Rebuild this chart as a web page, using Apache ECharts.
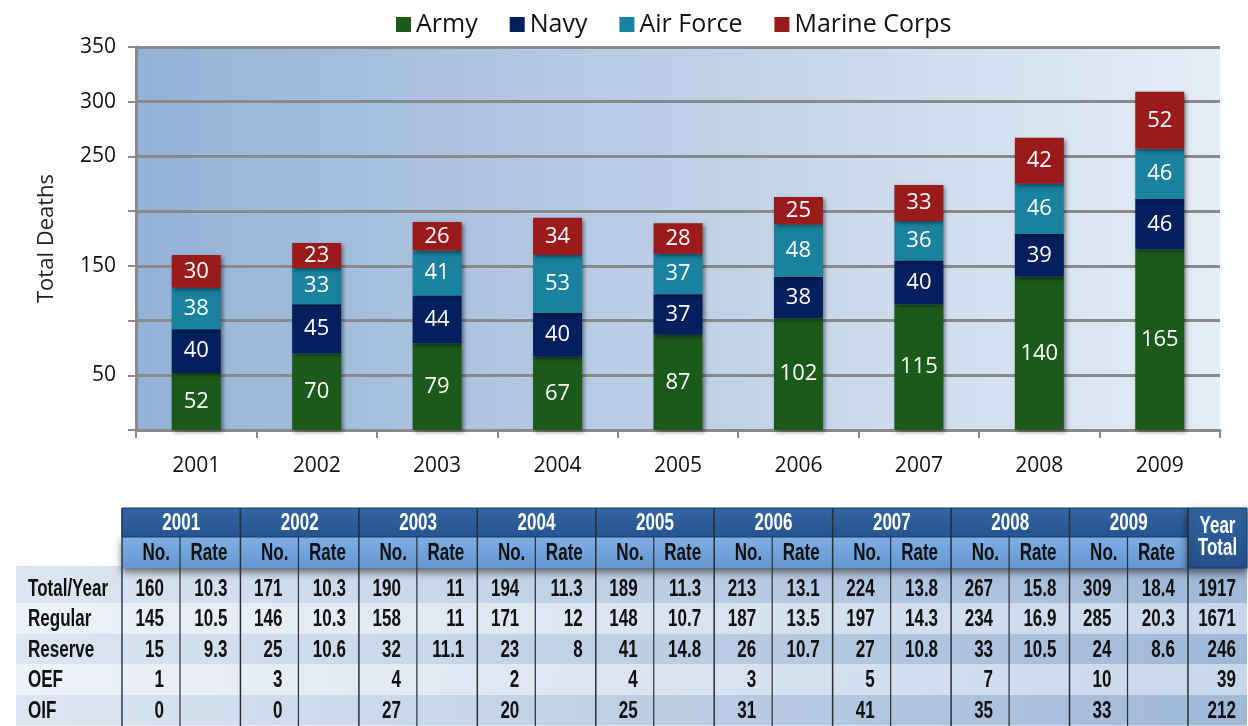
<!DOCTYPE html>
<html>
<head>
<meta charset="utf-8">
<script src="https://cdn.jsdelivr.net/npm/echarts@6/dist/echarts.min.js"></script>
<style>
html,body{margin:0;padding:0;background:#fff;}
#chart{width:1248px;height:726px;}
</style>
</head>
<body>
<div id="chart"></div>
<script>
// ---- Chart data ----
const years = ['2001','2002','2003','2004','2005','2006','2007','2008','2009'];
const army = [52, 70, 79, 67, 87, 102, 115, 140, 165];
const navy = [40, 45, 44, 40, 37, 38, 40, 39, 46];
const airForce = [38, 33, 41, 53, 37, 48, 36, 46, 46];
const marines = [30, 23, 26, 34, 28, 25, 33, 42, 52];
const yTickLabelsShown = [50, 150, 250, 300, 350];

// ---- Table data ----
const rowNames = ['Total/Year', 'Regular', 'Reserve', 'OEF', 'OIF'];
const noTotal = [160, 171, 190, 194, 189, 213, 224, 267, 309];
const rateTotal = ['10.3', '10.3', '11', '11.3', '11.3', '13.1', '13.8', '15.8', '18.4'];
const noRegular = [145, 146, 158, 171, 148, 187, 197, 234, 285];
const rateRegular = ['10.5', '10.3', '11', '12', '10.7', '13.5', '14.3', '16.9', '20.3'];
const noReserve = [15, 25, 32, 23, 41, 26, 27, 33, 24];
const rateReserve = ['9.3', '10.6', '11.1', '8', '14.8', '10.7', '10.8', '10.5', '8.6'];
const noOEF = [1, 3, 4, 2, 4, 3, 5, 7, 10];
const noOIF = [0, 0, 27, 20, 25, 31, 41, 35, 33];
const yearTotal = [1917, 1671, 246, 39, 212];

const tableNo = [noTotal, noRegular, noReserve, noOEF, noOIF];
const tableRate = [rateTotal, rateRegular, rateReserve, null, null];

const colors = { army: '#1b5a1a', navy: '#031f5e', airForce: '#1a819f', marines: '#9b1a1b' };

// ---- Table layout (graphics) ----
const L = { x0: 122, gw: 118.44, noW: 58, top: 508, h1: 29, h2: 31, rowTop: 573, rowH: 30.5, ytX: 1188, ytW: 59, labelX: 16, bottom: 726 };
const tFont = 'bold 23px "Liberation Sans", Arial, sans-serif';
const SX = 0.74;
const g = [];
function txt(text, x, y, align, fill) {
  g.push({ type: 'text', z: 14, x: x, y: y, scaleX: SX, scaleY: 1,
    style: { text: text, x: 0, y: 0, textAlign: align, textVerticalAlign: 'middle', fill: fill, font: tFont } });
}
// data rows backgrounds
for (let r = 0; r < rowNames.length; r++) {
  const dark = r % 2 === 0;
  const y = r === 0 ? 566 : L.rowTop + r * L.rowH;
  const h = r === 0 ? (L.rowTop + L.rowH - 566) : L.rowH;
  g.push({ type: 'rect', z: 10, shape: { x: L.labelX, y: y, width: 1247 - L.labelX, height: h },
    style: { fill: new echarts.graphic.LinearGradient(0, 0, 1, 0, [
      { offset: 0, color: dark ? '#dde6f1' : '#eef2f8' },
      { offset: 1, color: dark ? '#9fb8d8' : '#c8d7ea' }]) } });
}
// header row 1 (years)
for (let i = 0; i < years.length; i++) {
  const x = L.x0 + i * L.gw;
  g.push({ type: 'rect', z: 12, shape: { x: x, y: L.top, width: L.gw, height: L.h1 },
    style: { fill: new echarts.graphic.LinearGradient(0, 0, 0, 1, [
      { offset: 0, color: '#3466a3' }, { offset: 1, color: '#25548f' }]), stroke: '#1b3c68', lineWidth: 1 } });
  txt(years[i], x + L.gw / 2, L.top + L.h1 / 2 + 1, 'center', '#ffffff');
}
// header row 2 (No./Rate)
g.push({ type: 'rect', z: 11, shape: { x: L.x0, y: L.top + L.h1, width: L.ytX - L.x0, height: L.h2 },
  style: { fill: new echarts.graphic.LinearGradient(0, 0, 0, 1, [
    { offset: 0, color: '#7eaee3' }, { offset: 1, color: '#6497d2' }]),
    shadowBlur: 8, shadowColor: 'rgba(0,0,0,0.55)', shadowOffsetY: 4 } });
for (let i = 0; i < years.length; i++) {
  const x = L.x0 + i * L.gw;
  txt('No.', x + L.noW - 10, L.top + L.h1 + L.h2 / 2 + 1, 'right', '#111');
  txt('Rate', x + L.gw - 13, L.top + L.h1 + L.h2 / 2 + 1, 'right', '#111');
}
// Year Total header
g.push({ type: 'rect', z: 12, shape: { x: L.ytX, y: L.top, width: L.ytW, height: L.h1 + L.h2 },
  style: { fill: new echarts.graphic.LinearGradient(0, 0, 0, 1, [
    { offset: 0, color: '#3466a3' }, { offset: 1, color: '#22508a' }]), stroke: '#1b3c68', lineWidth: 1,
    shadowBlur: 8, shadowColor: 'rgba(0,0,0,0.55)', shadowOffsetY: 4 } });
txt('Year', L.ytX + L.ytW / 2, L.top + 19, 'center', '#fff');
txt('Total', L.ytX + L.ytW / 2, L.top + 41, 'center', '#fff');
// vertical dividers
for (let i = 0; i <= years.length; i++) {
  const x = L.x0 + i * L.gw;
  g.push({ type: 'line', z: 15, shape: { x1: x, y1: L.top, x2: x, y2: L.bottom },
    style: { stroke: i === 0 ? '#2a3d55' : '#2b2f36', lineWidth: 1.5 } });
  if (i < years.length) {
    g.push({ type: 'line', z: 15, shape: { x1: x + L.noW, y1: L.top + L.h1, x2: x + L.noW, y2: L.bottom },
      style: { stroke: '#2b2f36', lineWidth: 1.2 } });
  }
}
// row labels and values
for (let r = 0; r < rowNames.length; r++) {
  const cy = L.rowTop + r * L.rowH + L.rowH / 2 + 1;
  txt(rowNames[r], 28, cy, 'left', '#111');
  for (let i = 0; i < years.length; i++) {
    const x = L.x0 + i * L.gw;
    txt(String(tableNo[r][i]), x + L.noW - 16, cy, 'right', '#111');
    if (tableRate[r]) txt(tableRate[r][i], x + L.gw - 13, cy, 'right', '#111');
  }
  txt(String(yearTotal[r]), L.ytX + L.ytW - 11, cy, 'right', '#111');
}

// ---- Chart ----
const chart = echarts.init(document.getElementById('chart'), null, { renderer: 'canvas' });
const labelStyle = { show: true, position: 'inside', color: '#ffffff', fontSize: 22, fontFamily: '"Open Sans", sans-serif' };
const barItem = (c) => ({ color: c, shadowBlur: 4, shadowColor: 'rgba(0,0,0,0.45)', shadowOffsetX: 2, shadowOffsetY: 2 });
const mkSeries = (name, data, c) => ({
  name: name, type: 'bar', stack: 'total', data: data, barWidth: 49,
  itemStyle: barItem(c), label: labelStyle, emphasis: { disabled: true }
});

chart.setOption({
  animation: false,
  backgroundColor: '#ffffff',
  textStyle: { fontFamily: '"Open Sans", sans-serif' },
  legend: {
    top: 7, left: 391, itemWidth: 15, itemHeight: 15, itemGap: 32,
    icon: 'rect',
    textStyle: { fontSize: 25, color: '#111', fontFamily: '"Open Sans", sans-serif' },
    data: ['Army', 'Navy', 'Air Force', 'Marine Corps']
  },
  grid: {
    left: 136, right: 28, top: 47, bottom: 296, show: true, borderWidth: 0,
    backgroundColor: new echarts.graphic.LinearGradient(0, 0, 1, 0, [
      { offset: 0, color: '#94b2d7' }, { offset: 1, color: '#e5edf6' }])
  },
  xAxis: {
    type: 'category', data: years,
    axisLine: { lineStyle: { color: '#8a8a8a', width: 3 } },
    axisTick: { show: true, alignWithLabel: false, length: 8, lineStyle: { color: '#8a8a8a', width: 2 } },
    axisLabel: { fontSize: 21, color: '#111', margin: 26 }
  },
  yAxis: {
    type: 'value', min: 0, max: 350, interval: 50,
    name: 'Total Deaths', nameLocation: 'middle', nameGap: 78, nameRotate: 90,
    nameTextStyle: { fontSize: 22, color: '#222' },
    axisLine: { show: true, lineStyle: { color: '#8a8a8a', width: 3 } },
    axisTick: { show: true, length: 8, lineStyle: { color: '#8a8a8a', width: 2 } },
    splitLine: { show: true, lineStyle: { color: '#8a8a8a', width: 3 } },
    axisLabel: { fontSize: 21, color: '#111', margin: 20,
      formatter: (v) => yTickLabelsShown.indexOf(v) >= 0 ? String(v) : '' }
  },
  series: [
    mkSeries('Army', army, colors.army),
    mkSeries('Navy', navy, colors.navy),
    mkSeries('Air Force', airForce, colors.airForce),
    mkSeries('Marine Corps', marines, colors.marines)
  ],
  graphic: { elements: g }
});
</script>
</body>
</html>
